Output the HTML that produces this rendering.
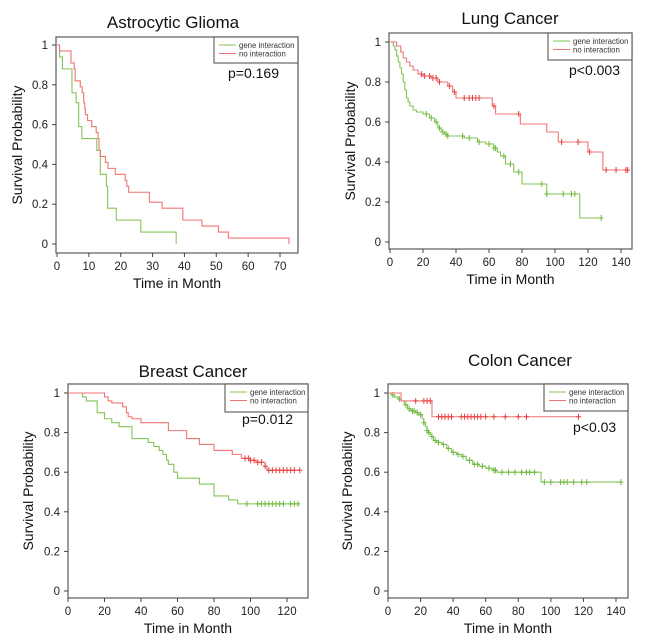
<!DOCTYPE html>
<html><head><meta charset="utf-8"><style>
html,body{margin:0;padding:0;background:#fff;width:650px;height:641px;overflow:hidden}
svg{display:block;font-family:"Liberation Sans",Arial,sans-serif}
</style></head><body>
<svg id="s" width="650" height="641" viewBox="0 0 650 641"></svg>
<script>
// ---- data ----
const astroTitle="Astrocytic Glioma", lungTitle="Lung Cancer", breastTitle="Breast Cancer", colonTitle="Colon Cancer";
const astroXTicks=[0,10,20,30,40,50,60,70];
const lungXTicks=[0,20,40,60,80,100,120,140];
const breastXTicks=[0,20,40,60,80,100,120];
const colonXTicks=[0,20,40,60,80,100,120,140];
const yTicks=[0,0.2,0.4,0.6,0.8,1];
const yTickLabels=["0","0.2","0.4","0.6","0.8","1"];

const astroGreenT=[0.8,1.7,4.7,6,6.8,7.8,12.5,13.6,15.5,15.9,18.6,26.3,37.4];
const astroGreenS=[0.94,0.88,0.76,0.71,0.59,0.53,0.47,0.35,0.29,0.18,0.12,0.06,0];
const astroGreenEnd=37.4;
const astroRedT=[0.8,4.4,5.4,5.7,7.3,7.9,8.4,8.7,8.9,9.6,10.9,12.3,12.9,13.2,13.6,15.2,16,18.3,21.4,21.9,22.5,29,33,39.5,45.5,50.7,53.8,72.8];
const astroRedS=[0.97,0.91,0.88,0.82,0.79,0.76,0.71,0.68,0.65,0.62,0.59,0.56,0.53,0.47,0.44,0.41,0.38,0.35,0.32,0.29,0.26,0.21,0.18,0.12,0.09,0.06,0.03,0];
const astroRedEnd=72.8;

const lungRedT=[4,6.5,8,10,12,14,17,20,25,29,35,38,40,62,64,79,95,102,120,129];
const lungRedS=[0.98,0.95,0.92,0.9,0.88,0.86,0.84,0.83,0.82,0.8,0.78,0.75,0.72,0.68,0.64,0.59,0.55,0.5,0.45,0.36];
const lungRedEnd=145;
const lungRedCens=[19,21,24,26,28,30,36,39,45,48,50,52,54,63,78,104,114,121,131,137,143,144];
const lungGreenT=[2,3,4,5,6,7,8,9,10,11,12,14,16,20,24,27,29,31,33,35,45,53,58,63,65,67,70,75,80,95,115];
const lungGreenS=[0.98,0.96,0.93,0.9,0.87,0.84,0.8,0.76,0.72,0.7,0.68,0.66,0.65,0.64,0.62,0.6,0.57,0.55,0.54,0.53,0.52,0.5,0.49,0.47,0.45,0.43,0.39,0.35,0.29,0.24,0.12];
const lungGreenEnd=128;
const lungGreenCens=[22,25,28,30,32,34,35,44,48,54,60,63,64,69,73,78,92,95,105,110,112,128];

const breastRedT=[20,22,24,30,32,33,35,40,55,65,72,80,90,95,100,103,108,109];
const breastRedS=[0.98,0.96,0.95,0.93,0.9,0.88,0.87,0.85,0.81,0.77,0.74,0.71,0.69,0.67,0.66,0.65,0.63,0.61];
const breastRedEnd=127;
const breastRedCens=[97,99,100,102,104,106,108,110,112,114,116,118,120,122,124,127];
const breastGreenT=[8,10,16,20,24,28,35,44,47,50,52,54,55,58,60,72,80,88,93];
const breastGreenS=[0.98,0.96,0.9,0.87,0.85,0.83,0.77,0.75,0.73,0.71,0.69,0.66,0.64,0.6,0.57,0.54,0.48,0.46,0.44];
const breastGreenEnd=127;
const breastGreenCens=[98,104,106,108,110,112,114,116,118,122,124,126];

const colonRedT=[8,27];
const colonRedS=[0.96,0.88];
const colonRedEnd=117;
const colonRedCens=[17,22,24,26,31,33,35,37,39,45,47,49,51,53,55,57,60,65,72,80,85,117];
const colonGreenT=[2,4,6,8,10,12,14,17,19,21,22,23,24,25,26,27,28,30,33,36,39,42,45,48,52,56,60,64,67,94];
const colonGreenS=[0.99,0.98,0.97,0.96,0.94,0.92,0.91,0.9,0.89,0.87,0.85,0.83,0.81,0.8,0.79,0.78,0.76,0.75,0.74,0.72,0.7,0.69,0.68,0.66,0.64,0.63,0.62,0.61,0.6,0.55];
const colonGreenEnd=143;
const colonGreenCens=[3,7,11,13,15,16,18,20,22,24,25,27,29,31,34,37,40,43,46,50,53,55,58,62,65,66,70,74,78,82,85,87,90,96,100,106,108,110,114,119,122,143];

const GREEN="#86c45a", RED="#f07474", GREENC="#6cb83a", REDC="#e84040";
const svg=document.getElementById('s');
const NS="http://www.w3.org/2000/svg";
function mk(tag,attrs,parent){const e=document.createElementNS(NS,tag);for(const k in attrs)e.setAttribute(k,attrs[k]);(parent||svg).appendChild(e);return e;}

function stepAt(T,S,t){let s=1;for(let i=0;i<T.length;i++){if(T[i]<=t)s=S[i];}return s;}

function panel(o){
  const g=mk('g',{});
  
  
  const X=t=>o.x0+(t-0)*(o.x1-o.x0)/o.xmax;
  const Yf=v=>o.y0+v*(o.y1-o.y0);
  const box=mk('rect',{x:o.bl,y:o.bt,width:o.br-o.bl,height:o.bb-o.bt,fill:'none',stroke:'#666','stroke-width':1.3},g);
  
  
  const t=mk('text',{x:o.tx,y:o.ty,'font-size':17,'text-anchor':'middle',fill:'#111'},g);
  t.textContent=o.title;
  
  
  yTicks.forEach((v,i)=>{
    const y=Yf(v);
    mk('line',{x1:o.bl-4,x2:o.bl,y1:y,y2:y,stroke:'#444'},g);
    const l=mk('text',{x:o.bl-8,y:y+4,'font-size':11.5,'text-anchor':'end',fill:'#222'},g);
    l.textContent=yTickLabels[i];
    
    
  });
  o.xticks.forEach(v=>{
    const x=X(v);
    mk('line',{x1:x,x2:x,y1:o.bb,y2:o.bb+4,stroke:'#444'},g);
    const l=mk('text',{x:x,y:o.bb+17,'font-size':11.5,'text-anchor':'middle',fill:'#222'},g);
    l.textContent=v;
    
    
  });
  const xt=mk('text',{x:(o.bl+o.br)/2,y:o.bb+35,'font-size':14,'text-anchor':'middle',fill:'#111'},g);
  xt.textContent="Time in Month";
  
  
  const yc=(o.bt+o.bb)/2;
  const yt=mk('text',{x:o.ylx,y:yc,'font-size':14,'text-anchor':'middle',fill:'#111',transform:`rotate(-90 ${o.ylx} ${yc})`},g);
  yt.textContent="Survival Probability";
  
  
  function curve(T,S,end,cens,col,ccol,nm){
    let d=`M${X(0)},${Yf(1)}`;
    for(let i=0;i<T.length;i++){d+=` H${X(T[i])} V${Yf(S[i])}`;}
    d+=` H${X(end)}`;
    const p=mk('path',{d:d,fill:'none',stroke:col,'stroke-width':1.1},g);
    
    
    (cens||[]).forEach(c=>{
      const x=X(c),y=Yf(stepAt(T,S,c));
      const m=mk('path',{d:`M${x},${y-3}V${y+3}M${x-2.5},${y}H${x+2.5}`,stroke:ccol,'stroke-width':1},g);
      
      
    });
  }
  curve(o.gT,o.gS,o.gEnd,o.gC,GREEN,GREENC,'gene-interaction');
  curve(o.rT,o.rS,o.rEnd,o.rC,RED,REDC,'no-interaction');
  const lg=mk('g',{},g);
  
  
  mk('rect',{x:o.lx,y:o.bt,width:o.br-o.lx,height:o.lh,fill:'#fff',stroke:'#666','stroke-width':1.2},lg);
  [['gene interaction',GREEN],['no interaction',RED]].forEach((e,i)=>{
    const yy=o.bt+8+i*8.5;
    mk('line',{x1:o.lx+5,x2:o.lx+22,y1:yy,y2:yy,stroke:e[1]},lg);
    const tx=mk('text',{x:o.lx+25,y:yy+3,'font-size':7.8,fill:'#333'},lg);
    tx.textContent=e[0];
    
    
  });
  const p=mk('text',{x:o.px,y:o.py,'font-size':14,fill:'#111'},g);
  p.textContent=o.p;
  
  
}

panel({name:'astrocytic-glioma',title:astroTitle,tx:173,ty:28,bl:56,br:298,bt:37,bb:253,x0:57,x1:280,xmax:70,y0:244,y1:45,
  xticks:astroXTicks,ylx:22,lx:214,lh:26,px:228,py:78,p:"p=0.169",
  gT:astroGreenT,gS:astroGreenS,gEnd:astroGreenEnd,gC:[],rT:astroRedT,rS:astroRedS,rEnd:astroRedEnd,rC:[]});
panel({name:'lung-cancer',title:lungTitle,tx:510,ty:24,bl:389,br:632,bt:33,bb:249,x0:390,x1:621,xmax:140,y0:242,y1:42,
  xticks:lungXTicks,ylx:355,lx:548,lh:27,px:569,py:75,p:"p<0.003",
  gT:lungGreenT,gS:lungGreenS,gEnd:lungGreenEnd,gC:lungGreenCens,rT:lungRedT,rS:lungRedS,rEnd:lungRedEnd,rC:lungRedCens});
panel({name:'breast-cancer',title:breastTitle,tx:193,ty:377,bl:68,br:308,bt:384,bb:598,x0:68,x1:287,xmax:120,y0:591,y1:393,
  xticks:breastXTicks,ylx:33,lx:225,lh:28,px:242,py:424,p:"p=0.012",
  gT:breastGreenT,gS:breastGreenS,gEnd:breastGreenEnd,gC:breastGreenCens,rT:breastRedT,rS:breastRedS,rEnd:breastRedEnd,rC:breastRedCens});
panel({name:'colon-cancer',title:colonTitle,tx:520,ty:366,bl:388,br:628,bt:384,bb:598,x0:388,x1:616,xmax:140,y0:591,y1:393,
  xticks:colonXTicks,ylx:352,lx:544,lh:27,px:573,py:432,p:"p<0.03",
  gT:colonGreenT,gS:colonGreenS,gEnd:colonGreenEnd,gC:colonGreenCens,rT:colonRedT,rS:colonRedS,rEnd:colonRedEnd,rC:colonRedCens});
</script>
</body></html>
